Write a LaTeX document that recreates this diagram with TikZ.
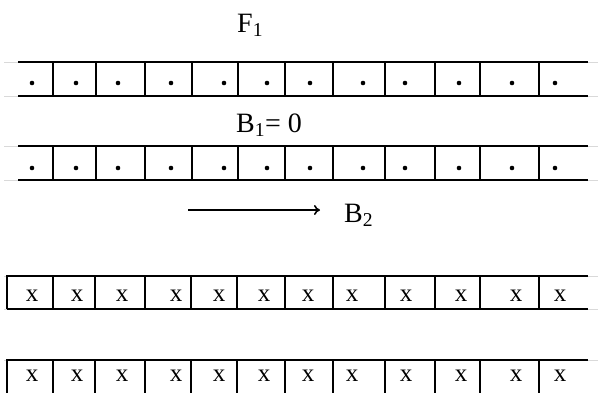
\documentclass[tikz,border=0pt]{standalone}
\usepackage{fontspec}
\setmainfont{Liberation Serif}
\usetikzlibrary{arrows.meta}

\tikzset{
  rowline/.style={black,line width=2pt},
  faint/.style={gray!30,line width=0.8pt},
  lbl/.style={inner sep=0pt,anchor=base west,font=\fontsize{28}{32}\selectfont},
  crossmark/.style={inner sep=0pt,font=\fontsize{25}{28}\selectfont},
}

\begin{document}
\begin{tikzpicture}[x=1pt,y=-1pt]
	\useasboundingbox (0,0) rectangle (598,392);
	% faint guide lines
	\foreach \y in {62,96,146,180,276,309,360}
		\draw[faint] (4,\y) -- (598,\y);
	% the two rows with dots
	\foreach \t/\b/\d in {62/96/83,146/180/168}{
		\draw[rowline] (18,\t) -- (588,\t);
		\draw[rowline] (18,\b) -- (588,\b);
		\foreach \x in {53,96,145,192,238,285,333,385,435,480,539}
			\draw[rowline] (\x,\t) -- (\x,\b);
		\foreach \x in {32,76,118,171,224,267,310,363,405,459,512,555}
			\fill (\x,\d) circle (2.3pt);
	}
	% the two rows with crosses
	\foreach \t/\b/\m in {276/309/296,360/394/376}{
		\draw[rowline] (588,\t) -- (7,\t) -- (7,\b);
		\draw[rowline] (7,\b) -- (588,\b);
		\foreach \x in {53,95,145,191,237,285,333,385,435,480,539}
			\draw[rowline] (\x,\t) -- (\x,\b);
		\foreach \x in {32,77,122,176,219,264,308,352,406,461,516,560}
			\node[crossmark] at (\x,\m) {x};
	}
	% labels
	\node[lbl] (F1) at (237,32) {F\textsubscript{1}};
	\node[lbl] (B1) at (236,132) {B\textsubscript{1}= 0};
	\node[lbl] (B2) at (344,222) {B\textsubscript{2}};
	\coordinate (arrS) at (188,210);
	\coordinate (arrE) at (320,210);
	\draw[line width=1.6pt,-{To[length=6pt,width=10pt]}] (arrS) -- (arrE);
\end{tikzpicture}
\end{document}
